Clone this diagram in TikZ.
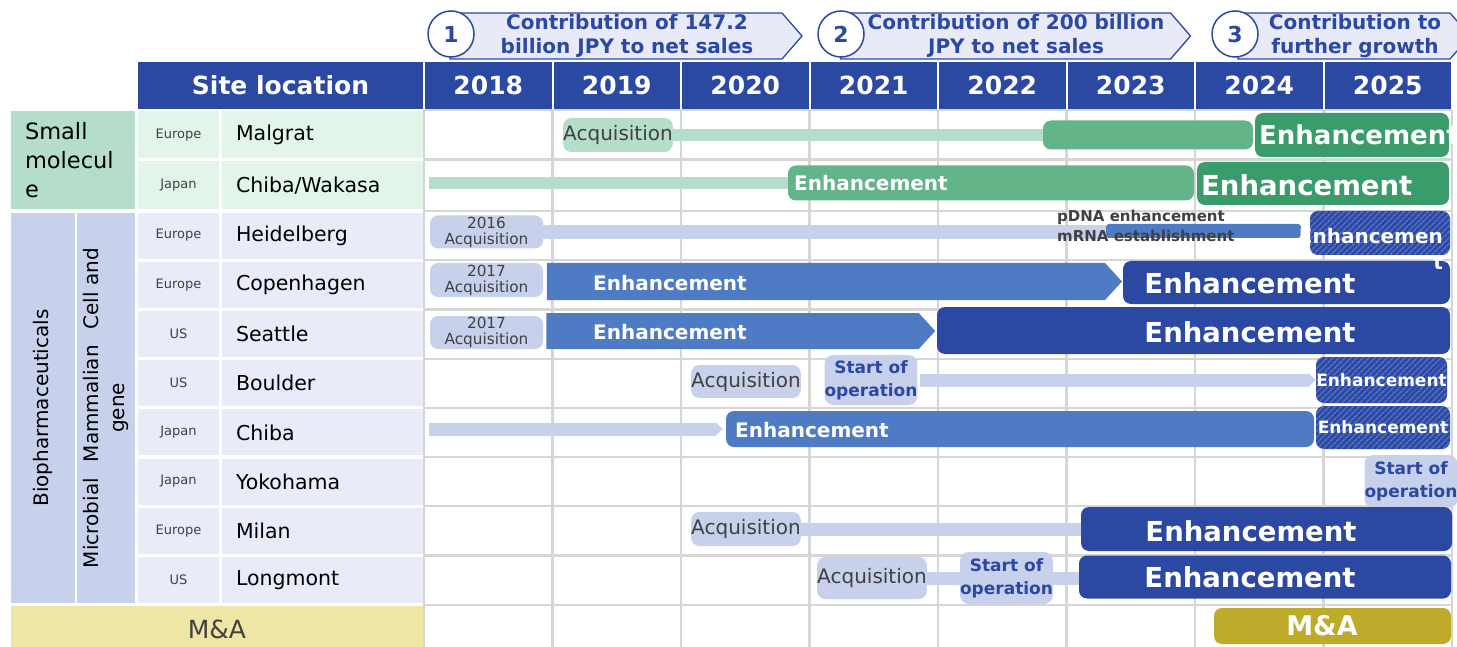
\documentclass[tikz,border=0pt]{standalone}
\usepackage{fontspec}
\setmainfont{DejaVu Sans}
\usetikzlibrary{shapes.symbols,arrows.meta,patterns.meta}

\definecolor{hdrblue}{HTML}{2B48A3}
\definecolor{medblue}{HTML}{4E7BC4}
\definecolor{lav}{HTML}{C8D1EC}
\definecolor{lavlt}{HTML}{E9ECF8}
\definecolor{bannerfill}{HTML}{E8EBF7}
\definecolor{mint}{HTML}{B5DECA}
\definecolor{mintlt}{HTML}{E3F4E9}
\definecolor{greenmid}{HTML}{63B488}
\definecolor{greendark}{HTML}{3A9B6B}
\definecolor{olive}{HTML}{BFAB2A}
\definecolor{paleyellow}{HTML}{EFE6A5}
\definecolor{gridgray}{HTML}{D6D6D6}
\definecolor{txtgray}{HTML}{404040}
\definecolor{hatchblue}{HTML}{5B76C6}

\begin{document}
\begin{tikzpicture}[x=1pt, y=-1pt,
    grid/.style={draw=gridgray, line width=2.2pt},
    hdr/.style={rectangle, fill=hdrblue, text=white, minimum height=47pt, inner sep=0pt, font=\fontsize{25}{30}\selectfont\bfseries},
    banner/.style={signal, signal to=east, signal pointer angle=98, draw=hdrblue, line width=1.3pt, fill=bannerfill, minimum height=46pt, inner sep=0pt},
    bannertxt/.style={text=hdrblue, align=center, inner sep=0pt, font=\fontsize{20}{24}\selectfont\bfseries},
    phase/.style={circle, draw=hdrblue, line width=1.5pt, fill=white, text=hdrblue, minimum size=46pt, inner sep=0pt, font=\fontsize{22}{24}\selectfont\bfseries},
    regcell/.style={rectangle, fill=#1, text=txtgray, minimum width=81pt, inner sep=0pt, font=\fontsize{13}{15}\selectfont},
    sitecell/.style={rectangle, fill=#1, text=black, text width=173pt, inner xsep=14pt, inner ysep=0pt, align=left, font=\fontsize{20.5}{24}\selectfont},
    groupcell/.style={rectangle, fill=#1, text=black, inner sep=0pt, font=\fontsize{20}{26}\selectfont},
    acq/.style={rectangle, rounded corners=8pt, fill=#1, text=txtgray, inner sep=0pt, font=\fontsize{20}{24}\selectfont},
    acqtwo/.style={acq=lav, align=center, font=\fontsize{15.3}{16}\selectfont},
    startop/.style={rectangle, rounded corners=9pt, fill=lav, text=hdrblue, inner sep=0pt, align=center, font=\fontsize{17}{23}\selectfont\bfseries},
    box/.style={rectangle, rounded corners=8pt, fill=#1, inner sep=0pt},
    arrowbar/.style={signal, signal to=east, signal pointer angle=95, fill=medblue, inner sep=0pt},
    hatchbox/.style={box=hdrblue, postaction={pattern={Lines[angle=45,distance=4pt,line width=1.4pt]}, pattern color=hatchblue}, text=white, font=\fontsize{17}{20}\selectfont\bfseries},
    bar/.style={draw=#1, line width=13pt},
    tip/.style={-{Triangle[length=7pt,width=13pt,line width=0pt]}},
    midtxt/.style={anchor=west, text=white, inner sep=0pt, font=\fontsize{20}{24}\selectfont\bfseries},
    bigtxt/.style={text=white, inner sep=0pt, font=\fontsize{27.5}{30}\selectfont\bfseries},
    note/.style={anchor=west, align=left, text=txtgray, inner sep=0pt, font=\fontsize{15}{20}\selectfont\bfseries}]

    \useasboundingbox (0,0) rectangle (1457,647);

    \node[banner, minimum width=352pt] (gain1) at (616,36) {};
    \node[banner, minimum width=350pt] (gain2) at (1005.5,36) {};
    \node[banner, minimum width=232pt] (gain3) at (1344,36) {};
    \node[bannertxt] (gain1txt) at (627,36) {Contribution of 147.2\\billion JPY to net sales};
    \node[bannertxt] (gain2txt) at (1016,36) {Contribution of 200 billion\\JPY to net sales};
    \node[bannertxt] (gain3txt) at (1355,36) {Contribution to\\further growth};
    \node[phase] (ph1) at (451,34) {1};
    \node[phase] (ph2) at (841,34) {2};
    \node[phase] (ph3) at (1235,34) {3};

    \node[hdr, minimum width=285pt] (sitehdr) at (280.5,85.5) {Site location};
    \foreach \yr [count=\i from 0] in {2018,...,2025}
        \node[hdr, minimum width=126.5pt] (y\yr) at (488.25+128.5*\i,85.5) {\yr};

    \foreach \gy in {110,159.5,211,260.2,309.4,358.6,407.8,457,506.2,555.4,604.6}
        \draw[grid] (424,\gy) -- (1452,\gy);
    \foreach \gx in {0,...,8}
        \draw[grid] (424+128.5*\gx,110) -- (424+128.5*\gx,647);

    \node[groupcell=mint, minimum width=124pt, minimum height=98pt, text width=96pt, inner xsep=14pt, align=left, font=\fontsize{22.5}{29}\selectfont] (smallmol) at (73,160.5) {Small\\molecul\\e};
    \node[regcell=mintlt, minimum height=46.5pt] (regMalgrat) at (178.5,134.75) {Europe};
    \node[sitecell=mintlt, minimum height=46.5pt] (siteMalgrat) at (322.5,134.75) {Malgrat};
    \node[regcell=mintlt, minimum height=48.5pt] (regWakasa) at (178.5,185.25) {Japan};
    \node[sitecell=mintlt, minimum height=48.5pt] (siteWakasa) at (322.5,185.25) {Chiba/Wakasa};

    \node[groupcell=lav, rotate=90, minimum width=390pt, minimum height=63.5pt] (biopharma) at (42.75,408) {Biopharmaceuticals};
    \node[groupcell=lav, rotate=90, minimum width=390pt, minimum height=58pt, align=center] (modality) at (106,408) {Microbial\hspace{16pt}Mammalian\hspace{16pt}Cell and\\gene};
    \foreach \reg/\site [count=\k from 0] in {Europe/Heidelberg,Europe/Copenhagen,US/Seattle,US/Boulder,Japan/Chiba,Japan/Yokohama,Europe/Milan,US/Longmont} {
        \node[regcell=lavlt, minimum height=46pt] (reg\site) at (178.5,235.6+49.2*\k) {\reg};
        \node[sitecell=lavlt, minimum height=46pt] (site\site) at (322.5,235.6+49.2*\k) {\site};
    }
    \node[groupcell=paleyellow, text=txtgray, minimum width=412pt, minimum height=46pt, font=\fontsize{25}{30}\selectfont] (macell) at (217,629) {M\&A};

    \node[acq=mint, minimum width=108pt, minimum height=34pt] (malAcq) at (618,135) {Acquisition};
    \node[box=greenmid, minimum width=210pt, minimum height=29pt] (malMid) at (1148,135) {};
    \node[box=greendark, minimum width=194pt, minimum height=44pt] (malEnh) at (1352,135) {};
    \draw[bar=mint, line width=12pt] (malAcq.east) -- (malMid.west);
    \node[bigtxt, anchor=west, font=\fontsize{26}{30}\selectfont\bfseries] (malEnhTxt) at (1259,135) {Enhancement};

    \coordinate (cwStart) at (429,183);
    \node[box=greenmid, minimum width=406pt, minimum height=35pt] (cwEnh) at (991,183) {};
    \node[box=greendark, minimum width=252pt, minimum height=43pt] (cwNext) at (1323,183.5) {};
    \draw[bar=mint, line width=12pt] (cwStart) -- (cwEnh.west);
    \node[midtxt] (cwEnhTxt) at (794,183) {Enhancement};
    \node[bigtxt, anchor=west] (cwNextTxt) at (1201,185) {Enhancement};

    \node[acqtwo, minimum width=113pt, minimum height=33pt] (heiAcq) at (486.5,232) {2016\\Acquisition};
    \node[box=medblue, rounded corners=3pt, minimum width=195pt, minimum height=14pt] (heiPdna) at (1203.5,231) {};
    \draw[bar=lav, line width=14pt] (heiAcq.east) -- (heiAcq.east -| heiPdna.west);
    \node[note] (heiPdnaTxt) at (1057,226) {pDNA enhancement\\mRNA establishment};
    \node[hatchbox, minimum width=140pt, minimum height=44pt] (heiHatch) at (1380,233) {};

    \node[acqtwo, minimum width=113pt, minimum height=34pt] (copAcq) at (486.5,280) {2017\\Acquisition};
    \node[arrowbar, minimum width=575pt, minimum height=37pt] (copArrow) at (826,281.5) {};
    \node[box=hdrblue, minimum width=327pt, minimum height=43pt] (copEnh) at (1286.5,282.5) {};
    \node[midtxt] (copArrowTxt) at (593,283) {Enhancement};
    \node[bigtxt] (copEnhTxt) at (1250,283) {Enhancement};

    \node[acqtwo, minimum width=113pt, minimum height=33pt] (seaAcq) at (486.5,332.5) {2017\\Acquisition};
    \node[arrowbar, minimum width=389pt, minimum height=36pt] (seaArrow) at (732.5,331) {};
    \node[box=hdrblue, minimum width=513pt, minimum height=47pt] (seaEnh) at (1193.5,330.5) {};
    \node[midtxt] (seaArrowTxt) at (593,332) {Enhancement};
    \node[bigtxt] (seaEnhTxt) at (1250,332) {Enhancement};

    \node[acq=lav, minimum width=108pt, minimum height=33pt] (bouAcq) at (746,381.5) {Acquisition};
    \node[startop, minimum width=76pt, minimum height=50pt] (bouStart) at (871,380) {Start of\\operation};
    \node[hatchbox, minimum width=131pt, minimum height=46pt] (bouHatch) at (1381.5,380) {Enhancement};
    \draw[bar=lav, tip, shorten <=2pt] (bouStart.east) -- (bouHatch.west);

    \coordinate (chiStart) at (429,429);
    \node[box=medblue, minimum width=588pt, minimum height=36pt] (chiEnh) at (1020,429) {};
    \node[hatchbox, minimum width=134pt, minimum height=43pt] (chiHatch) at (1383,427.5) {Enhancement};
    \draw[bar=lav, tip, shorten >=3pt] (chiStart) -- (chiEnh.west);
    \node[midtxt] (chiEnhTxt) at (735,430) {Enhancement};

    \node[startop, minimum width=78pt, minimum height=53pt] (yokStart) at (1411,481.5) {Start of\\operation};

    \node[acq=lav, minimum width=108pt, minimum height=34pt] (milAcq) at (746,529) {Acquisition};
    \node[box=hdrblue, minimum width=371pt, minimum height=44pt] (milEnh) at (1266.5,529) {};
    \draw[bar=lav] (milAcq.east) -- (milEnh.west);
    \node[bigtxt] (milEnhTxt) at (1251,531) {Enhancement};

    \node[acq=lav, minimum width=108pt, minimum height=42pt] (lonAcq) at (872,578) {Acquisition};
    \node[startop, minimum width=79pt, minimum height=52pt] (lonStart) at (1006.5,578) {Start of\\operation};
    \node[box=hdrblue, minimum width=372pt, minimum height=43pt] (lonEnh) at (1265,577) {};
    \draw[bar=lav] (lonAcq.east) -- (lonStart.west);
    \draw[bar=lav] (lonStart.east) -- (lonStart.east -| lonEnh.west);
    \node[bigtxt] (lonEnhTxt) at (1250,577) {Enhancement};

    \node[box=olive, minimum width=237pt, minimum height=36pt] (maBar) at (1332.5,626) {};
    \node[bigtxt, font=\fontsize{27}{30}\selectfont\bfseries] (maBarTxt) at (1322,626) {M\&A};

    \node[bigtxt, anchor=east, align=right, font=\fontsize{20}{26}\selectfont\bfseries] (heiHatchTxt) at (1443,249) {Enhancemen\\t};
\end{tikzpicture}
\end{document}
